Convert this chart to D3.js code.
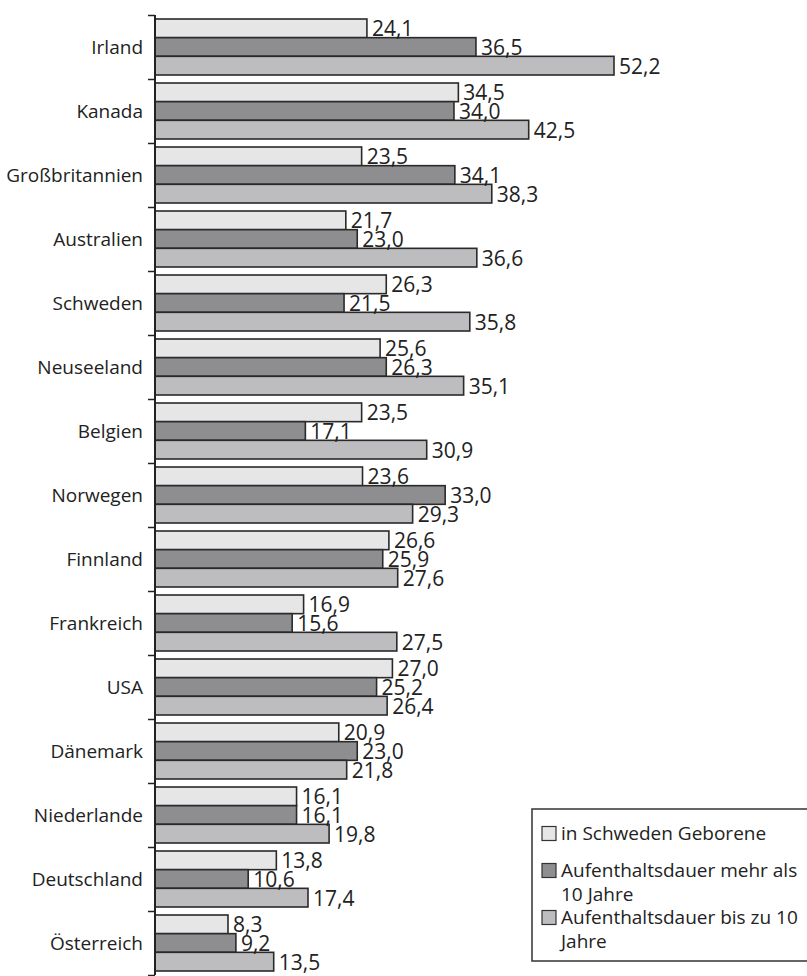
<!DOCTYPE html>
<html>
<head>
<meta charset="utf-8">
<script src="https://cdn.jsdelivr.net/npm/d3@7"></script>
<style>
  body { margin: 0; background: #fff; }
  svg { display: block; font-family: "Open Sans", sans-serif; }
</style>
</head>
<body>
<svg width="807" height="976"></svg>
<script>
// Länder (von oben nach unten)
var categories = ["Irland", "Kanada", "Großbritannien", "Australien", "Schweden", "Neuseeland",
  "Belgien", "Norwegen", "Finnland", "Frankreich", "USA", "Dänemark", "Niederlande",
  "Deutschland", "Österreich"];

var seriesNames = ["in Schweden Geborene", "Aufenthaltsdauer mehr als 10 Jahre",
  "Aufenthaltsdauer bis zu 10 Jahre"];

// Werte pro Serie
var geboren = [24.1, 34.5, 23.5, 21.7, 26.3, 25.6, 23.5, 23.6, 26.6, 16.9, 27.0, 20.9, 16.1, 13.8, 8.3];
var mehr10  = [36.5, 34.0, 34.1, 23.0, 21.5, 26.3, 17.1, 33.0, 25.9, 15.6, 25.2, 23.0, 16.1, 10.6, 9.2];
var bis10   = [52.2, 42.5, 38.3, 36.6, 35.8, 35.1, 30.9, 29.3, 27.6, 27.5, 26.4, 21.8, 19.8, 17.4, 13.5];

var legendLines = [["in Schweden Geborene"], ["Aufenthaltsdauer mehr als", "10 Jahre"],
  ["Aufenthaltsdauer bis zu 10", "Jahre"]];

var colors = ["#e6e6e7", "#8e8e90", "#bdbdbf"];
var seriesValues = [geboren, mehr10, bis10];

var svg = d3.select("svg");
var axisX = 155;

var x = d3.scaleLinear().domain([0, 52.2]).range([axisX, 614]);
var y = d3.scaleBand().domain(categories).range([15, 975]).padding(0);
var sub = d3.scaleBand().domain(d3.range(3)).range([4, y.bandwidth() - 4]).padding(0);

var data = [];
categories.forEach(function(c, i) {
  seriesValues.forEach(function(vals, s) {
    data.push({ cat: c, s: s, v: vals[i] });
  });
});

// Balken
svg.append("g").selectAll("rect")
  .data(data)
  .enter().append("rect")
  .attr("x", x(0))
  .attr("y", d => y(d.cat) + sub(d.s))
  .attr("width", d => x(d.v) - x(0))
  .attr("height", sub.bandwidth())
  .attr("fill", d => colors[d.s])
  .attr("stroke", "#2a2a2a")
  .attr("stroke-width", 1.6);

// Werte
svg.append("g").selectAll("text")
  .data(data)
  .enter().append("text")
  .attr("x", d => x(d.v) + 5)
  .attr("y", d => y(d.cat) + sub(d.s) + sub.bandwidth() - 1.5)
  .attr("font-size", 21)
  .attr("fill", "#222")
  .text(d => d3.format(".1f")(d.v).replace(".", ","));

// Achse mit Trennstrichen zwischen den Gruppen
var yIdx = d3.scaleLinear().domain([0, categories.length]).range([15, 975]);
var axis = svg.append("g")
  .attr("transform", "translate(" + axisX + ",0)")
  .call(d3.axisLeft(yIdx).ticks(categories.length).tickSize(7).tickFormat(""));
axis.select(".domain").attr("stroke", "#222").attr("stroke-width", 2).attr("d", "M0,15V975");
axis.selectAll(".tick line").attr("stroke", "#222").attr("stroke-width", 1.5);

// Kategorienamen
svg.append("g").selectAll("text")
  .data(categories)
  .enter().append("text")
  .attr("x", axisX - 12)
  .attr("y", d => y(d) + y.bandwidth() / 2 + 7)
  .attr("text-anchor", "end")
  .attr("font-size", 19)
  .attr("fill", "#222")
  .text(d => d);

// Legende
var lg = svg.append("g");
lg.append("rect")
  .attr("x", 532).attr("y", 809).attr("width", 290).attr("height", 152)
  .attr("fill", "#fff").attr("stroke", "#333").attr("stroke-width", 1.5);

var rowY = [833, 870, 917];
legendLines.forEach(function(lines, i) {
  lg.append("rect")
    .attr("x", 542).attr("y", rowY[i] - 6.5).attr("width", 14).attr("height", 14)
    .attr("fill", colors[i]).attr("stroke", "#333").attr("stroke-width", 1.2);
  lines.forEach(function(t, j) {
    lg.append("text")
      .attr("x", 561).attr("y", rowY[i] + 7 + j * 23.5)
      .attr("font-size", 19).attr("fill", "#222")
      .text(t);
  });
});
</script>
</body>
</html>
